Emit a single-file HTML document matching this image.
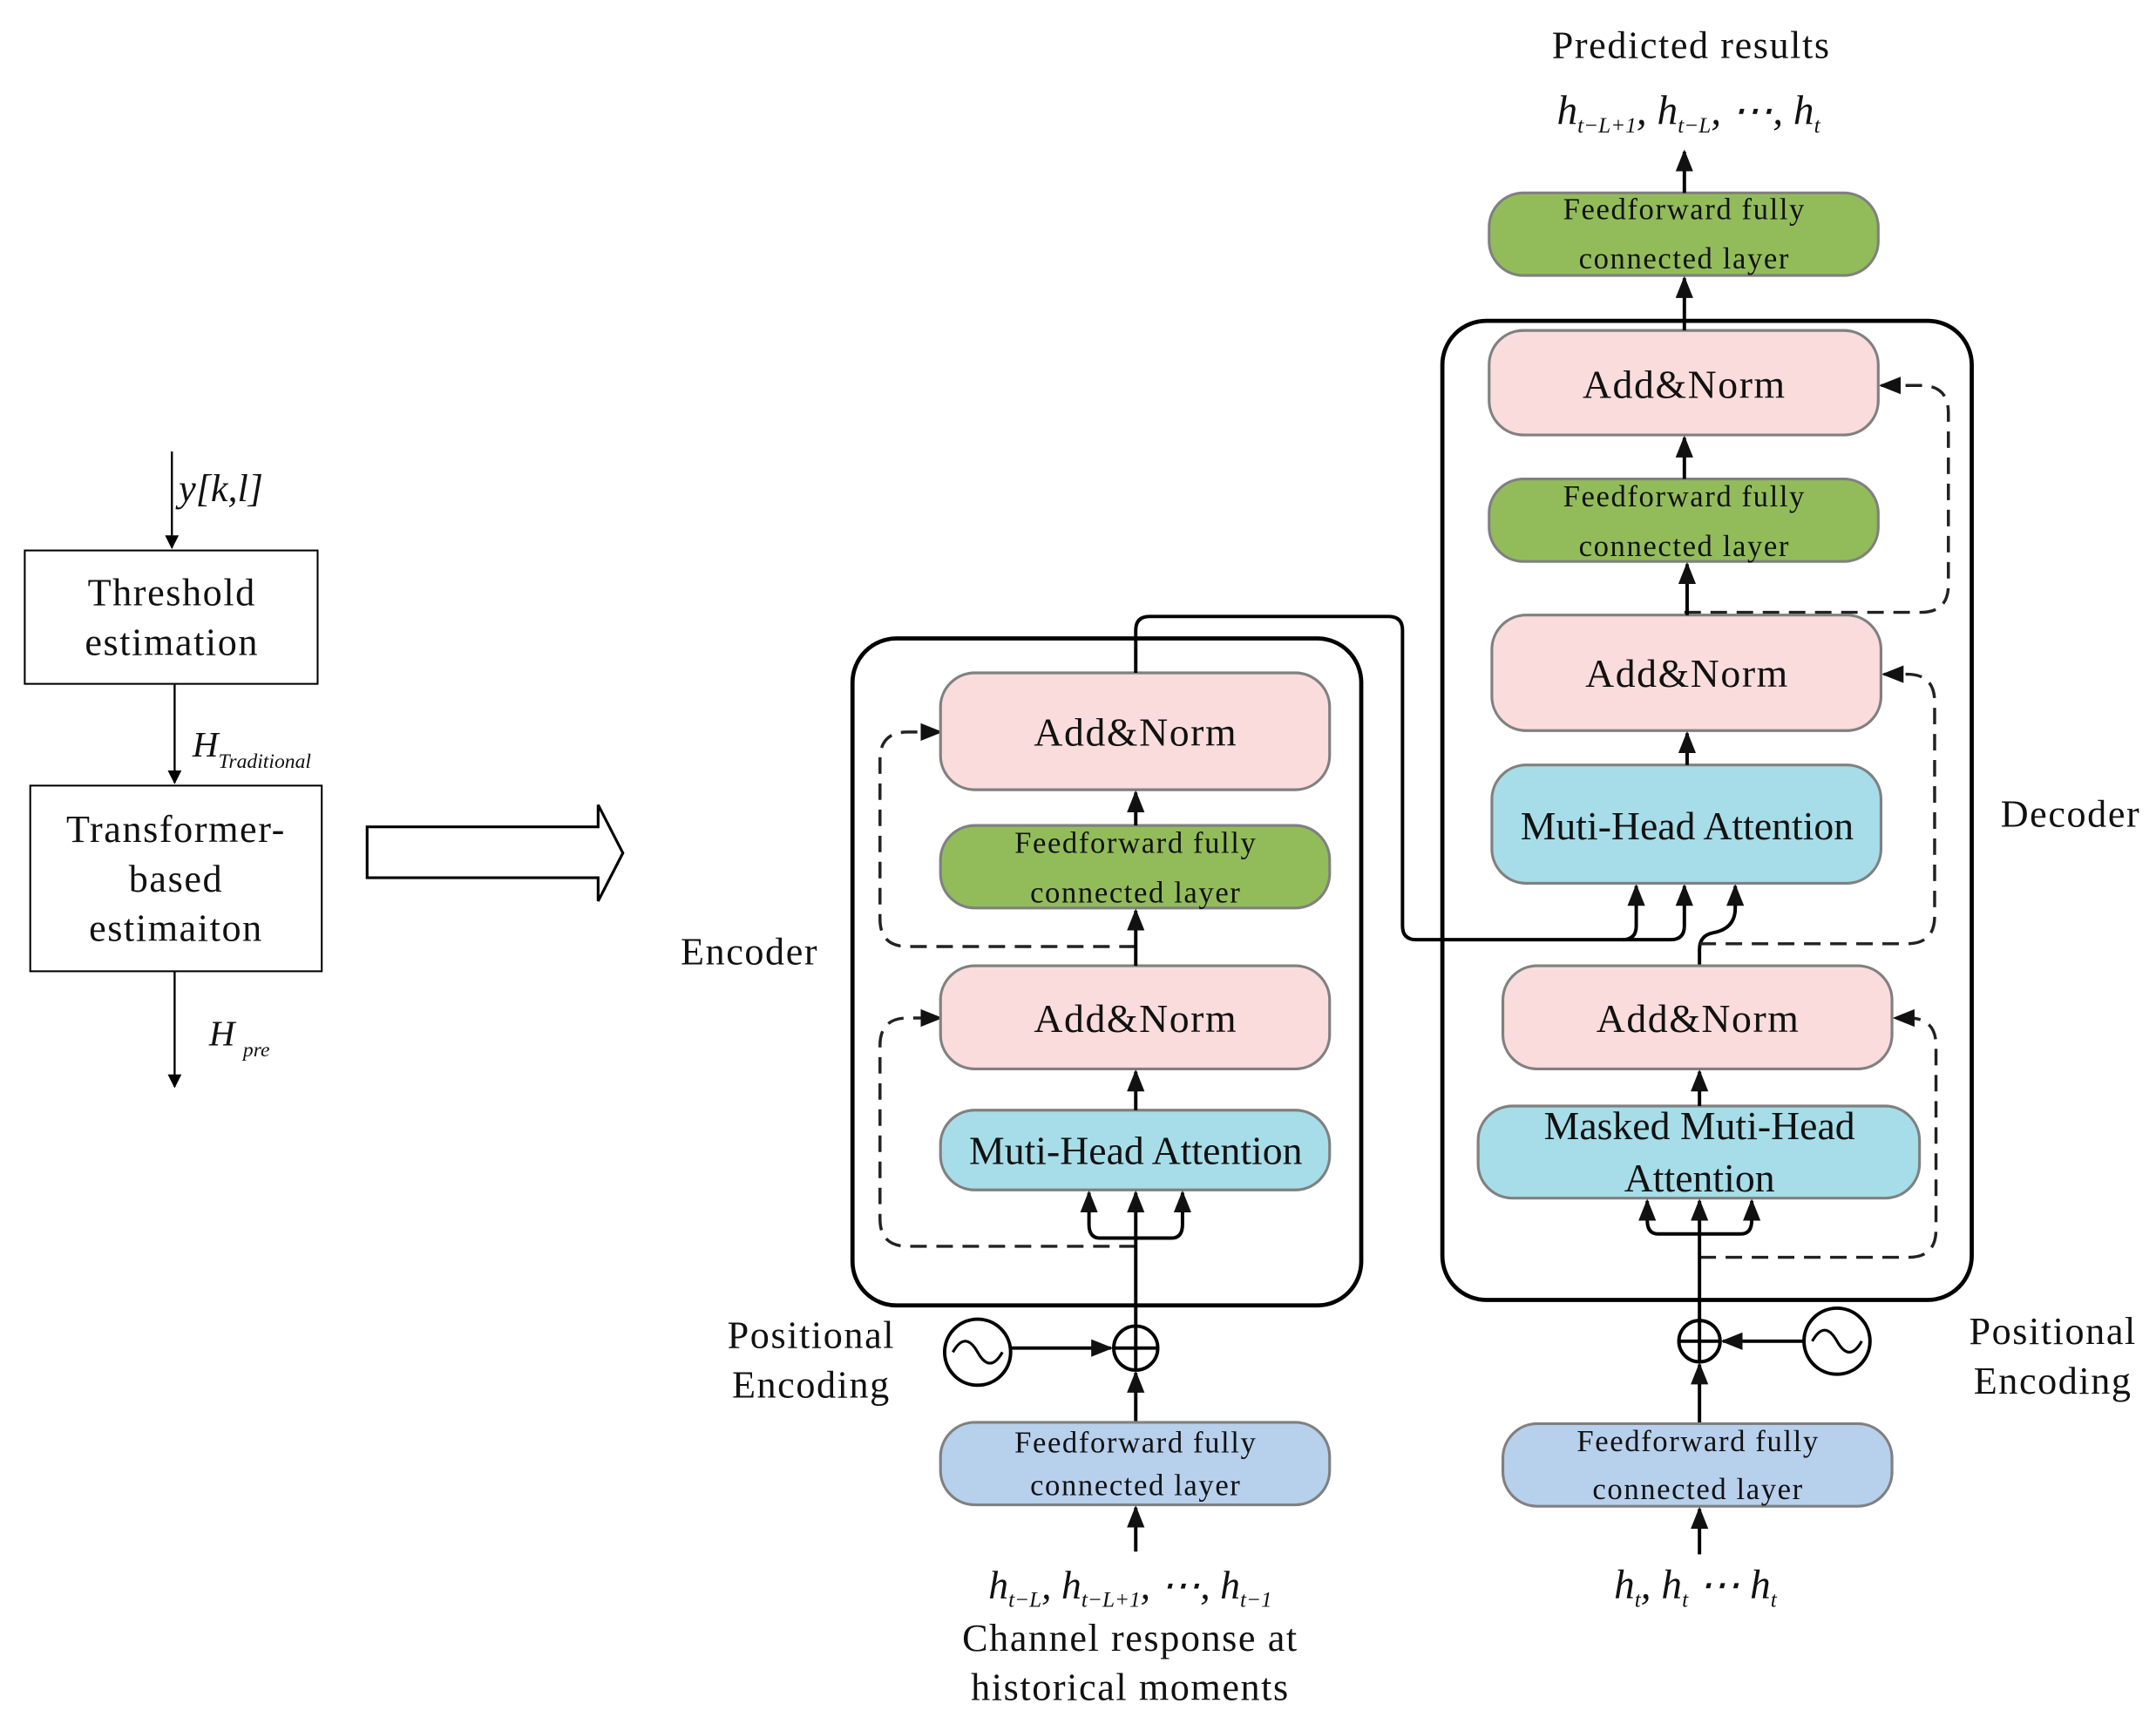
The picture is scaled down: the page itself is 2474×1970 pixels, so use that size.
<!DOCTYPE html>
<html><head><meta charset="utf-8"><style>
html,body{margin:0;padding:0;background:#fff}
svg{display:block}
text{font-family:"Liberation Serif",serif;fill:#111}
.b{stroke:#808080;stroke-width:2}
.l{stroke:#000;stroke-width:2.5;fill:none}
.d{stroke:#222;stroke-width:2.2;fill:none;stroke-dasharray:12 7}
.i{font-style:italic}
.w{letter-spacing:1px}
</style></head><body>
<svg width="2474" height="1970" viewBox="0 0 1568 1248" xmlns="http://www.w3.org/2000/svg">
<defs>
<marker id="a" viewBox="0 0 10 10" refX="9" refY="5" markerWidth="10" markerHeight="10" orient="auto" markerUnits="userSpaceOnUse"><path d="M0,0L10,5L0,10z" fill="#000"/></marker>
<marker id="A" viewBox="0 0 10 10" refX="9" refY="5" markerWidth="16" markerHeight="16" orient="auto" markerUnits="userSpaceOnUse"><path d="M0,1L10,5L0,9z" fill="#111"/></marker>
</defs>
<!-- Left flow -->
<line x1="125" y1="328" x2="125" y2="398" class="l" style="stroke-width:1.5" marker-end="url(#a)"/>
<text x="130" y="364" font-size="28" class="i">y[k,l]</text>
<rect x="18" y="400" width="213" height="97" fill="#fff" stroke="#000" stroke-width="1.3"/>
<text x="125" y="440" font-size="28" text-anchor="middle" class="w">Threshold</text>
<text x="125" y="476" font-size="28" text-anchor="middle" class="w">estimation</text>
<line x1="127" y1="497" x2="127" y2="569" class="l" style="stroke-width:1.5" marker-end="url(#a)"/>
<text x="140" y="550" font-size="26" class="i">H<tspan font-size="15" dy="8">Traditional</tspan></text>
<rect x="22" y="571" width="212" height="135" fill="#fff" stroke="#000" stroke-width="1.3"/>
<text x="128" y="612" font-size="28" text-anchor="middle" class="w">Transformer-</text>
<text x="128" y="648" font-size="28" text-anchor="middle" class="w">based</text>
<text x="128" y="684" font-size="28" text-anchor="middle" class="w">estimaiton</text>
<line x1="127" y1="706" x2="127" y2="790" class="l" style="stroke-width:1.5" marker-end="url(#a)"/>
<text x="152" y="760" font-size="26" class="i">H<tspan font-size="15" dy="8" dx="6">pre</tspan></text>
<path d="M267,601H435V585L453,620L435,655V638H267Z" fill="#fff" stroke="#000" stroke-width="2"/>

<!-- Encoder -->
<rect x="620" y="464" width="370" height="485" rx="32" fill="none" stroke="#000" stroke-width="3"/>
<text x="495" y="701" font-size="28" class="w">Encoder</text>
<path class="d" d="M826,688H660Q640,688 640,668V552Q640,532 660,532H684" marker-end="url(#A)"/>
<path class="d" d="M826,906H660Q640,906 640,886V760Q640,740 660,740H684" marker-end="url(#A)"/>
<rect x="684" y="489" width="283" height="85" rx="25" fill="#f9dcdb" class="b"/>
<text x="826" y="542" font-size="29" text-anchor="middle" class="w">Add&amp;Norm</text>
<rect x="684" y="600" width="283" height="60" rx="25" fill="#92bc5a" class="b"/>
<text x="826" y="620" font-size="22" text-anchor="middle" class="w">Feedforward fully</text>
<text x="826" y="656" font-size="22" text-anchor="middle" class="w">connected layer</text>
<rect x="684" y="702" width="283" height="75" rx="25" fill="#f9dcdb" class="b"/>
<text x="826" y="750" font-size="29" text-anchor="middle" class="w">Add&amp;Norm</text>
<rect x="684" y="807" width="283" height="58" rx="25" fill="#a6dde8" class="b"/>
<text x="826" y="846" font-size="29" text-anchor="middle">Muti-Head Attention</text>
<line x1="826" y1="600" x2="826" y2="576" class="l" marker-end="url(#A)"/>
<line x1="826" y1="702" x2="826" y2="662" class="l" marker-end="url(#A)"/>
<line x1="826" y1="807" x2="826" y2="779" class="l" marker-end="url(#A)"/>
<line x1="826" y1="964" x2="826" y2="867" class="l" marker-end="url(#A)"/>
<path class="l" d="M826,900H800Q792,900 792,890V867" marker-end="url(#A)"/>
<path class="l" d="M826,900H852Q860,900 860,890V867" marker-end="url(#A)"/>
<circle cx="711" cy="983" r="24" fill="#fff" stroke="#000" stroke-width="2.5"/>
<path d="M693,983q9,-16 18,0t18,0" fill="none" stroke="#000" stroke-width="2"/>
<line x1="735" y1="980" x2="808" y2="980" class="l" marker-end="url(#A)"/>
<circle cx="826" cy="980" r="16" fill="#fff" stroke="#000" stroke-width="2.5"/>
<path d="M810,980H842M826,964V996" stroke="#000" stroke-width="2.5"/>
<line x1="826" y1="1034" x2="826" y2="998" class="l" marker-end="url(#A)"/>
<text x="590" y="980" font-size="28" text-anchor="middle" class="w">Positional</text>
<text x="590" y="1016" font-size="28" text-anchor="middle" class="w">Encoding</text>
<rect x="684" y="1034" width="283" height="60" rx="25" fill="#b7d0ec" class="b"/>
<text x="826" y="1056" font-size="22" text-anchor="middle" class="w">Feedforward fully</text>
<text x="826" y="1087" font-size="22" text-anchor="middle" class="w">connected layer</text>
<line x1="826" y1="1128" x2="826" y2="1096" class="l" marker-end="url(#A)"/>
<text x="822" y="1162" font-size="29" text-anchor="middle" class="i">h<tspan font-size="16" dy="6">t−L</tspan><tspan dy="-6">, h</tspan><tspan font-size="16" dy="6">t−L+1</tspan><tspan dy="-6">, ⋯, h</tspan><tspan font-size="16" dy="6">t−1</tspan></text>
<text x="822" y="1200" font-size="28" text-anchor="middle" class="w">Channel response at</text>
<text x="822" y="1236" font-size="28" text-anchor="middle" class="w">historical moments</text>

<!-- Cross connection -->
<path class="l" d="M826,489V458Q826,448 836,448H1010Q1020,448 1020,458V673Q1020,683 1030,683H1180Q1190,683 1190,673V644" marker-end="url(#A)"/>
<path class="l" d="M1180,683H1215Q1225,683 1225,673V644" marker-end="url(#A)"/>
<path class="l" d="M1236,702V690Q1236,680 1246,678Q1262,675 1262,660V644" marker-end="url(#A)"/>

<!-- Decoder -->
<rect x="1049" y="233" width="385" height="712" rx="32" fill="none" stroke="#000" stroke-width="3"/>
<text x="1455" y="601" font-size="28" class="w">Decoder</text>
<path class="d" d="M1225,445H1397Q1417,445 1417,425V300Q1417,280 1397,280H1368" marker-end="url(#A)"/>
<path class="d" d="M1236,686H1387Q1407,686 1407,666V510Q1407,490 1387,490H1370" marker-end="url(#A)"/>
<path class="d" d="M1236,914H1388Q1408,914 1408,894V760Q1408,740 1388,740H1378" marker-end="url(#A)"/>
<rect x="1083" y="140" width="283" height="60" rx="25" fill="#92bc5a" class="b"/>
<text x="1225" y="159" font-size="22" text-anchor="middle" class="w">Feedforward fully</text>
<text x="1225" y="195" font-size="22" text-anchor="middle" class="w">connected layer</text>
<rect x="1083" y="240" width="283" height="76" rx="25" fill="#f9dcdb" class="b"/>
<text x="1225" y="289" font-size="29" text-anchor="middle" class="w">Add&amp;Norm</text>
<rect x="1083" y="348" width="283" height="60" rx="25" fill="#92bc5a" class="b"/>
<text x="1225" y="368" font-size="22" text-anchor="middle" class="w">Feedforward fully</text>
<text x="1225" y="404" font-size="22" text-anchor="middle" class="w">connected layer</text>
<rect x="1085" y="447" width="283" height="84" rx="25" fill="#f9dcdb" class="b"/>
<text x="1227" y="499" font-size="29" text-anchor="middle" class="w">Add&amp;Norm</text>
<rect x="1085" y="556" width="283" height="86" rx="25" fill="#a6dde8" class="b"/>
<text x="1227" y="610" font-size="29" text-anchor="middle">Muti-Head Attention</text>
<rect x="1093" y="702" width="283" height="75" rx="25" fill="#f9dcdb" class="b"/>
<text x="1235" y="750" font-size="29" text-anchor="middle" class="w">Add&amp;Norm</text>
<rect x="1075" y="804" width="321" height="67" rx="25" fill="#a6dde8" class="b"/>
<text x="1236" y="828" font-size="29" text-anchor="middle">Masked Muti-Head</text>
<text x="1236" y="866" font-size="29" text-anchor="middle">Attention</text>
<line x1="1225" y1="140" x2="1225" y2="110" class="l" marker-end="url(#A)"/>
<line x1="1225" y1="240" x2="1225" y2="202" class="l" marker-end="url(#A)"/>
<line x1="1225" y1="348" x2="1225" y2="318" class="l" marker-end="url(#A)"/>
<line x1="1227" y1="447" x2="1227" y2="410" class="l" marker-end="url(#A)"/>
<line x1="1227" y1="556" x2="1227" y2="533" class="l" marker-end="url(#A)"/>
<line x1="1236" y1="804" x2="1236" y2="779" class="l" marker-end="url(#A)"/>
<line x1="1236" y1="960" x2="1236" y2="873" class="l" marker-end="url(#A)"/>
<path class="l" d="M1236,897H1206Q1198,897 1198,887V873" marker-end="url(#A)"/>
<path class="l" d="M1236,897H1266Q1274,897 1274,887V873" marker-end="url(#A)"/>
<circle cx="1236" cy="975" r="15" fill="#fff" stroke="#000" stroke-width="2.5"/>
<path d="M1221,975H1251M1236,960V990" stroke="#000" stroke-width="2.5"/>
<circle cx="1336" cy="975" r="24" fill="#fff" stroke="#000" stroke-width="2.5"/>
<path d="M1318,975q9,-16 18,0t18,0" fill="none" stroke="#000" stroke-width="2"/>
<line x1="1312" y1="975" x2="1253" y2="975" class="l" marker-end="url(#A)"/>
<line x1="1236" y1="1035" x2="1236" y2="992" class="l" marker-end="url(#A)"/>
<text x="1493" y="977" font-size="28" text-anchor="middle" class="w">Positional</text>
<text x="1493" y="1013" font-size="28" text-anchor="middle" class="w">Encoding</text>
<rect x="1093" y="1035" width="283" height="60" rx="25" fill="#b7d0ec" class="b"/>
<text x="1235" y="1055" font-size="22" text-anchor="middle" class="w">Feedforward fully</text>
<text x="1235" y="1090" font-size="22" text-anchor="middle" class="w">connected layer</text>
<line x1="1236" y1="1130" x2="1236" y2="1097" class="l" marker-end="url(#A)"/>
<text x="1233" y="1162" font-size="30" text-anchor="middle" class="i">h<tspan font-size="16" dy="6">t</tspan><tspan dy="-6">, h</tspan><tspan font-size="16" dy="6">t</tspan><tspan dy="-6"> ⋯ h</tspan><tspan font-size="16" dy="6">t</tspan></text>
<text x="1230" y="42" font-size="28" text-anchor="middle" class="w">Predicted results</text>
<text x="1228" y="90" font-size="30" text-anchor="middle" class="i">h<tspan font-size="16" dy="6">t−L+1</tspan><tspan dy="-6">, h</tspan><tspan font-size="16" dy="6">t−L</tspan><tspan dy="-6">, ⋯, h</tspan><tspan font-size="16" dy="6">t</tspan></text>
</svg>
</body></html>
